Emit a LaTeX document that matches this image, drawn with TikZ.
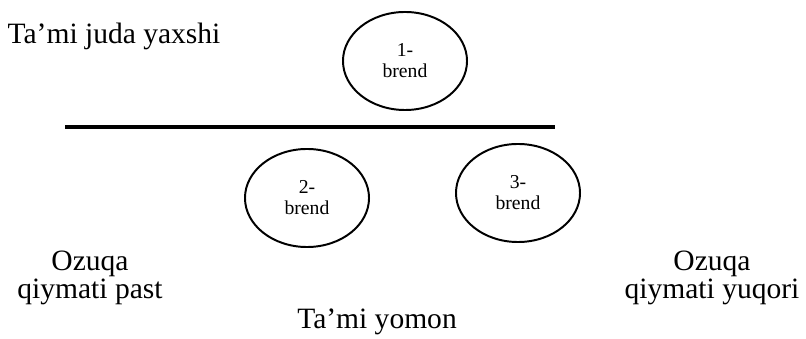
\documentclass[tikz,border=0pt]{standalone}
\usepackage{fontspec}
\setmainfont{Liberation Serif}
\usetikzlibrary{shapes.geometric}
\tikzset{
  brandoval/.style={ellipse,draw=black,line width=1.4pt,minimum width=3.1cm,minimum height=2.45cm,align=center,inner sep=0pt,font=\fontsize{14}{15}\selectfont},
  axislabel/.style={align=center,inner sep=0pt,font=\fontsize{21}{19.5}\selectfont},
  divider/.style={line width=2.6pt,draw=black}
}
\begin{document}
\begin{tikzpicture}[x=0.025cm,y=-0.025cm]
  \useasboundingbox (0,0) rectangle (806,339);
  % brands
  \node[brandoval] (brand1) at (405,61) {1-\\brend};
  \node[brandoval] (brand2) at (307,198) {2-\\brend};
  \node[brandoval] (brand3) at (518,193) {3-\\brend};
  % dividing line
  \coordinate (lineL) at (65,127);
  \coordinate (lineR) at (555,127);
  \draw[divider] (lineL) -- (lineR);
  % axis texts
  \node[axislabel] (tastegood) at (114,36) {Ta’mi juda yaxshi};
  \node[axislabel] (tastebad) at (377,322) {Ta’mi yomon};
  \node[axislabel] (nutrlow) at (90,278) {Ozuqa\\qiymati past};
  \node[axislabel] (nutrhigh) at (712,278) {Ozuqa\\qiymati yuqori};
\end{tikzpicture}
\end{document}
